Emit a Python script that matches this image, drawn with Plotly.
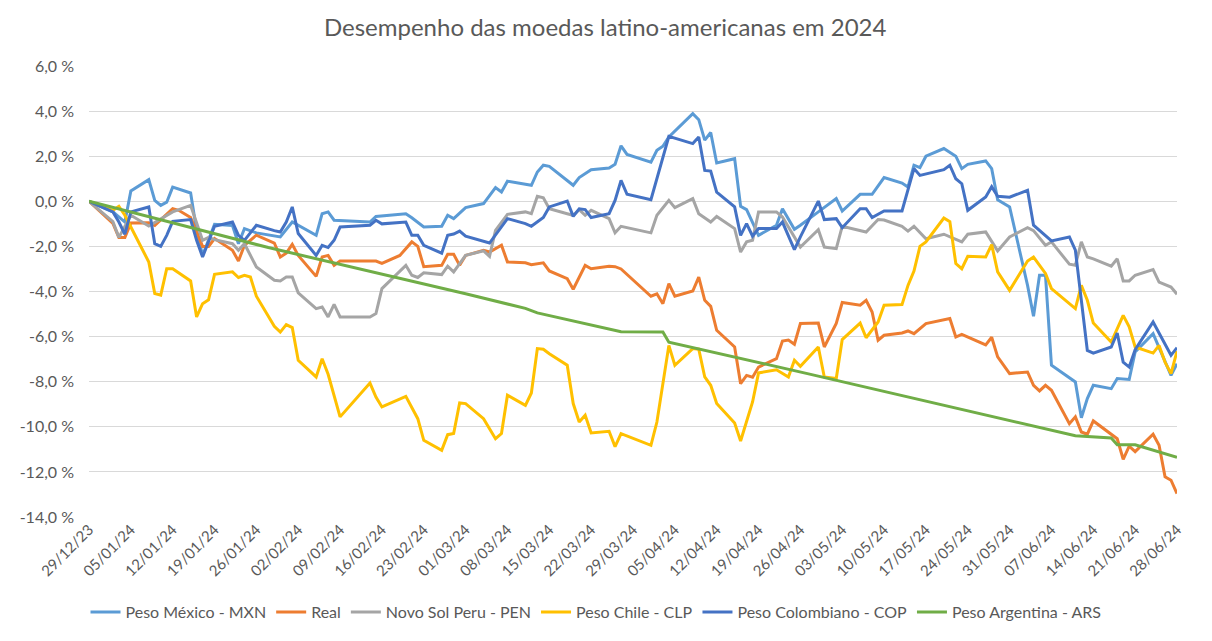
import pandas as pd
import plotly.graph_objects as go

# ---------------- data (percent change since 29/12/2023) ----------------
data_base = "2023-12-29"

dias_mxn = [0, 4, 6, 7, 10, 11, 12, 13, 14, 17, 18, 19, 21, 24, 25, 26, 28, 32, 34, 38, 39, 40, 41, 47, 48,
            53, 54, 56, 59, 60, 61, 63, 66, 68, 69, 70, 74, 75, 76, 77, 81, 82, 84, 87, 88, 89, 90, 94, 95,
            96, 97, 101, 102, 103, 104, 105, 108, 109, 110, 112, 115, 116, 118, 119, 122, 125, 126, 129,
            131, 133, 136, 137, 138, 139, 140, 143, 145, 146, 147, 150, 151, 152, 154, 157, 158, 159, 160,
            161, 165, 166, 167, 168, 171, 172, 174, 175, 178, 181, 182]
mxn = [0, -0.47, -0.92, 0.46, 0.96, 0.04, -0.18, -0.04, 0.63, 0.37, -1.29, -2.4, -1.02, -1.07, -1.88, -1.21,
       -1.4, -1.58, -0.92, -1.51, -0.55, -0.47, -0.84, -0.92, -0.67, -0.55, -0.73, -1.14, -1.11, -0.62,
       -0.77, -0.28, -0.1, 0.61, 0.41, 0.89, 0.71, 1.3, 1.6, 1.55, 0.71, 1.05, 1.4, 1.48, 1.64, 2.46, 2.08,
       1.74, 2.26, 2.44, 2.85, 3.89, 3.62, 2.71, 3.05, 1.7, 1.89, -0.22, -0.37, -1.51, -1.06, -0.33, -1.24,
       -1.06, -0.47, 0.12, -0.43, 0.31, 0.31, 1.05, 0.81, 0.63, 1.6, 1.49, 2.0, 2.34, 2.0, 1.45, 1.64, 1.79,
       1.45, 0.07, -0.25, -3.73, -5.1, -3.28, -3.28, -7.27, -8.01, -9.6, -8.75, -8.16, -8.31, -7.86, -7.9,
       -6.68, -5.87, -7.72, -7.2]

dias_brl = [0, 4, 5, 6, 7, 10, 11, 14, 15, 17, 19, 20, 21, 24, 25, 26, 28, 31, 32, 33, 34, 35, 38, 39, 40,
            41, 42, 48, 49, 52, 54, 55, 56, 59, 60, 61, 62, 63, 66, 67, 69, 70, 73, 74, 76, 77, 80, 81, 83,
            84, 87, 88, 89, 94, 95, 96, 97, 98, 101, 102, 103, 104, 105, 108, 109, 110, 111, 112, 115, 116,
            117, 118, 119, 122, 123, 125, 126, 129, 130, 131, 132, 133, 136, 137, 138, 140, 144, 145, 146,
            150, 151, 152, 154, 157, 158, 159, 160, 161, 164, 165, 166, 167, 168, 172, 173, 174, 175, 178,
            179, 180, 181, 182]
brl = [0, -0.98, -1.6, -1.6, -0.96, -0.95, -1.07, -0.33, -0.4, -0.72, -2.0, -2.0, -1.65, -2.17, -2.65, -1.95,
       -1.5, -1.85, -2.47, -2.3, -1.91, -2.4, -3.33, -2.47, -2.4, -2.84, -2.65, -2.65, -2.75, -2.4, -1.8,
       -2.0, -2.9, -2.84, -2.35, -2.35, -2.84, -2.4, -2.17, -2.25, -1.95, -2.69, -2.73, -2.81, -2.73, -3.09,
       -3.43, -3.9, -2.84, -2.99, -2.88, -2.9, -3.0, -4.21, -4.1, -4.54, -3.65, -4.21, -3.98, -3.36, -4.39,
       -4.66, -5.72, -6.46, -8.09, -7.72, -7.8, -7.35, -6.98, -6.2, -6.15, -6.34, -5.42, -5.4, -6.46, -5.42,
       -4.49, -4.61, -4.39, -4.91, -6.16, -5.94, -5.84, -5.75, -5.87, -5.42, -5.2, -6.02, -5.9, -6.37, -6.03,
       -6.9, -7.64, -7.57, -8.16, -8.41, -8.16, -8.38, -9.86, -9.56, -10.23, -10.33, -9.74, -10.53, -11.44,
       -10.86, -11.1, -10.33, -10.82, -12.22, -12.37, -12.96]

dias_pen = [0, 4, 5, 7, 10, 12, 14, 17, 19, 20, 21, 24, 25, 26, 28, 31, 32, 33, 34, 35, 38, 39, 40, 41, 42,
            47, 48, 49, 53, 54, 55, 56, 59, 60, 61, 63, 66, 67, 68, 70, 73, 74, 75, 76, 77, 80, 81, 82, 83,
            84, 87, 88, 89, 94, 95, 97, 98, 101, 102, 104, 105, 108, 109, 110, 111, 112, 115, 116, 118, 119,
            122, 123, 125, 126, 130, 132, 133, 136, 137, 138, 140, 143, 146, 147, 150, 152, 154, 157, 158,
            160, 161, 164, 165, 166, 167, 168, 171, 172, 173, 174, 175, 178, 179, 181, 182]
pen = [0, -0.9, -1.6, -0.62, -1.1, -0.8, -0.47, -0.18, -1.73, -1.6, -1.7, -1.88, -2.17, -1.88, -2.91, -3.5,
       -3.53, -3.36, -3.36, -4.06, -4.76, -4.69, -5.13, -4.57, -5.13, -5.13, -4.98, -3.87, -2.84, -3.28,
       -3.38, -3.17, -3.25, -2.88, -3.13, -2.4, -2.2, -2.44, -1.29, -0.58, -0.47, -0.55, 0.22, 0.16, -0.33,
       -0.55, -0.62, -0.37, -0.62, -0.4, -0.77, -1.4, -1.11, -1.4, -0.62, 0.04, -0.28, 0.12, -0.55, -0.92,
       -0.67, -1.21, -2.25, -1.8, -1.73, -0.47, -0.47, -0.7, -1.6, -2.03, -1.26, -2.03, -2.1, -1.11, -1.36,
       -0.81, -0.83, -1.11, -1.32, -1.11, -1.66, -1.46, -1.8, -1.46, -1.36, -2.2, -1.58, -1.17, -1.3, -1.95,
       -1.8, -2.79, -2.84, -1.8, -2.47, -2.55, -2.88, -2.55, -3.53, -3.53, -3.28, -3.03, -3.58, -3.8, -4.12]

dias_clp = [0, 4, 5, 6, 7, 10, 11, 12, 13, 14, 17, 18, 19, 20, 21, 24, 25, 26, 27, 28, 31, 32, 33, 34, 35,
            38, 39, 40, 42, 47, 48, 49, 53, 55, 56, 59, 60, 61, 62, 63, 66, 68, 69, 70, 73, 74, 75, 76, 77,
            80, 81, 82, 83, 84, 87, 88, 89, 94, 95, 97, 98, 101, 102, 103, 104, 105, 108, 109, 111, 112, 115,
            117, 118, 119, 122, 123, 125, 126, 129, 130, 132, 133, 136, 137, 138, 139, 140, 143, 144, 145,
            146, 147, 150, 151, 152, 154, 157, 158, 160, 161, 165, 166, 167, 168, 171, 173, 174, 175, 178,
            179, 180, 181, 182]
clp = [0, -0.4, -0.22, -0.62, -1.14, -2.69, -4.09, -4.16, -2.99, -2.99, -3.53, -5.13, -4.54, -4.37, -3.24,
       -3.13, -3.38, -3.28, -3.36, -4.21, -5.54, -5.8, -5.47, -5.6, -7.05, -7.79, -6.98, -7.67, -9.56, -8.06,
       -8.68, -9.12, -8.65, -9.64, -10.6, -11.04, -10.35, -10.3, -8.94, -8.97, -9.64, -10.53, -10.3, -8.6,
       -9.05, -8.5, -6.53, -6.56, -6.76, -7.27, -8.97, -9.79, -9.49, -10.27, -10.2, -10.88, -10.3, -10.82,
       -9.79, -6.39, -7.27, -6.53, -6.56, -7.79, -8.16, -8.97, -9.83, -10.63, -8.9, -7.61, -7.47, -7.79,
       -7.05, -7.32, -6.46, -7.79, -7.86, -6.13, -5.4, -6.05, -5.35, -4.61, -4.58, -3.73, -3.09, -2.0, -1.8,
       -0.74, -0.9, -2.76, -2.99, -2.44, -2.47, -1.92, -3.13, -3.95, -2.65, -2.47, -3.2, -3.87, -4.76, -3.73,
       -4.39, -5.4, -6.24, -5.06, -5.57, -6.46, -6.73, -6.39, -7.13, -7.64, -6.64]

dias_cop = [0, 4, 5, 6, 7, 10, 11, 12, 13, 14, 17, 18, 19, 21, 24, 25, 26, 28, 31, 32, 33, 34, 35, 38, 39,
            40, 41, 42, 47, 48, 49, 53, 54, 55, 56, 59, 60, 61, 62, 63, 67, 70, 73, 74, 76, 77, 80, 81, 82,
            83, 84, 87, 88, 89, 90, 94, 97, 101, 102, 103, 104, 105, 108, 109, 110, 111, 112, 115, 116, 118,
            119, 122, 123, 125, 126, 129, 130, 131, 133, 136, 138, 139, 143, 144, 145, 146, 147, 150, 151,
            152, 154, 157, 158, 161, 164, 165, 167, 168, 171, 172, 173, 174, 175, 178, 181, 182]
cop = [0, -0.47, -0.92, -1.46, -0.47, -0.25, -1.88, -2.0, -1.51, -0.89, -0.81, -1.73, -2.47, -1.11, -0.92,
       -1.51, -1.73, -1.06, -1.3, -1.36, -0.92, -0.25, -1.43, -2.4, -1.95, -2.05, -1.73, -1.14, -1.06, -0.84,
       -1.0, -0.92, -1.51, -1.51, -1.95, -2.3, -1.51, -1.45, -1.32, -1.55, -1.85, -0.77, -0.99, -1.11, -0.72,
       -0.25, 0.01, -0.67, -0.33, -0.37, -0.72, -0.55, 0.04, 0.93, 0.31, 0.07, 2.88, 2.56, 2.85, 1.37, 1.34,
       0.41, -0.25, -1.51, -0.99, -1.55, -1.21, -1.21, -0.92, -2.14, -1.58, 0.01, -0.81, -0.77, -1.17, -0.33,
       -0.33, -0.72, -0.43, -0.43, 1.45, 1.15, 1.4, 1.6, 1.0, 0.78, -0.4, 0.19, 0.65, 0.22, 0.18, 0.49,
       -1.06, -1.76, -1.58, -2.17, -6.61, -6.73, -6.46, -5.84, -7.13, -7.35, -6.58, -5.35, -6.83, -6.49]

dias_ars = [0, 30, 63, 73, 75, 89, 96, 97, 120, 151, 165, 171, 172, 175, 182]
ars = [0, -2.05, -4.1, -4.75, -4.95, -5.78, -5.8, -6.25, -7.63, -9.55, -10.4, -10.5, -10.8, -10.8, -11.35]

series_nomes = ["Peso México - MXN", "Real", "Novo Sol Peru - PEN", "Peso Chile - CLP",
                "Peso Colombiano - COP", "Peso Argentina - ARS"]
series_dias = [dias_mxn, dias_brl, dias_pen, dias_clp, dias_cop, dias_ars]
series_vals = [mxn, brl, pen, clp, cop, ars]
cores = ["#5B9BD5", "#ED7D31", "#A5A5A5", "#FFC000", "#4472C4", "#70AD47"]

y_ticks = [-14, -12, -10, -8, -6, -4, -2, 0, 2, 4, 6]
y_labels = ["-14,0 %", "-12,0 %", "-10,0 %", "-8,0 %", "-6,0 %", "-4,0 %", "-2,0 %",
            "0,0 %", "2,0 %", "4,0 %", "6,0 %"]
x_ticks = pd.date_range("2023-12-29", "2024-06-28", freq="7D")
x_labels = [d.strftime("%d/%m/%y") for d in x_ticks]

titulo = "Desempenho das moedas latino-americanas em 2024"

# ---------------- figure ----------------
base = pd.Timestamp(data_base)
fig = go.Figure()
for nome, dias, vals, cor in zip(series_nomes, series_dias, series_vals, cores):
    xs = [base + pd.Timedelta(days=d) for d in dias]
    fig.add_trace(go.Scatter(x=xs, y=vals, mode="lines", name=nome,
                             line=dict(color=cor, width=3)))

FONT = "Lato"
GRAY = "#595959"
W, H = 1204, 633   # page body adds an 8 px margin
fig.update_layout(
    width=W, height=H,
    margin=dict(l=70, r=35, t=58, b=124),
    paper_bgcolor="white", plot_bgcolor="white",
    font=dict(family=FONT, color=GRAY, size=16),
    title=dict(text=titulo, x=0.496, xanchor="center", y=1 - 20 / H, yanchor="middle",
               font=dict(family=FONT, size=24, color=GRAY)),
    showlegend=True,
    legend=dict(orientation="h", x=0.466, xanchor="center", yref="container", y=1 - 604 / H,
                yanchor="middle", font=dict(family=FONT, size=16, color=GRAY),
                itemwidth=30, tracegroupgap=0),
)
fig.update_xaxes(
    range=[x_ticks[0], x_ticks[-1]], tickmode="array", tickvals=list(x_ticks), ticktext=x_labels,
    tickangle=-45, showgrid=False, zeroline=False, showline=False, ticks="",
    tickfont=dict(family=FONT, size=15, color=GRAY),
)
fig.update_yaxes(
    range=[-14, 6], tickmode="array", tickvals=y_ticks, ticktext=y_labels,
    showgrid=True, gridcolor="#D9D9D9", gridwidth=1, zeroline=False, showline=False,
    ticks="", ticklabelstandoff=14, tickfont=dict(family=FONT, size=16, color=GRAY),
)

fig.write_html("out.html")
